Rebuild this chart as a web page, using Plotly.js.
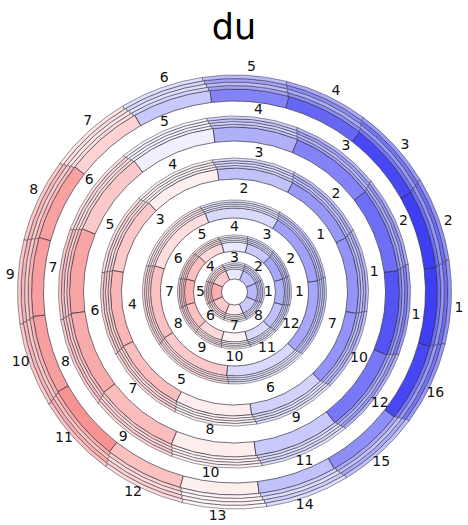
<!DOCTYPE html>
<html>
<head>
<meta charset="utf-8">
<script src="https://cdn.plot.ly/plotly-3.0.1.min.js"></script>
<style>
  html, body { margin: 0; padding: 0; background: #fff; }
  #chart { width: 468px; height: 525px; }
</style>
</head>
<body>
<div id="chart"></div>
<script>
// du per sector, one array per ring (innermost first), sectors numbered counter-clockwise
const ring1Values = [-0.32, -0.28, -0.10, 0.24, 0.36, 0.24, 0.08, -0.24];
const ring2Values = [-0.35, -0.39, -0.24, -0.10, 0.17, 0.28, 0.35, 0.28, 0.17, 0.06, -0.17, -0.28];
const ring3Values = [-0.42, -0.17, 0.15, 0.28, 0.24, -0.17, -0.39];
const ring4Values = [-0.48, -0.46, -0.27, 0.07, 0.24, 0.33, 0.29, 0.08, -0.20, -0.48];
const ring5Values = [-0.76, -0.64, -0.55, -0.35, -0.07, 0.24, 0.40, 0.38, 0.30, 0.08, -0.24, -0.60];
const ring6Values = [-0.86, -0.86, -0.82, -0.68, -0.55, -0.24, 0.20, 0.42, 0.43, 0.43, 0.48, 0.28, 0.07, -0.27, -0.50, -0.82];

const ringValues = [ring1Values, ring2Values, ring3Values, ring4Values, ring5Values, ring6Values];

// ring geometry (radial units = px): inner radius, solid band, outer striped band, label radius
const ringInner   = [13, 41, 74, 113, 151, 191];
const ringSolid   = [10,  9, 10,  11,  14,  12];
const ringStripes = [ 7,  7,  8,  10,  11,  14];
const ringLabelR  = [34, 65, 103, 141, 183, 225];
// angle of the centre of sector 1 in each ring (degrees, counter-clockwise from east)
const ringOffset  = [0, 0, 33.3, 8, -7.5, -4.3];
const stripeCount = 4;

const bwr = [[0, 'rgb(30,30,240)'], [0.5, 'rgb(255,255,255)'], [1, 'rgb(240,30,30)']];

const traces = [];
ringValues.forEach((vals, k) => {
  const n = vals.length;
  const step = 360 / n;
  const theta = vals.map((_, i) => ringOffset[k] + i * step);
  const labels = vals.map((_, i) => String(i + 1));
  // solid inner band
  traces.push({
    type: 'barpolar',
    theta: theta,
    r: vals.map(() => ringSolid[k]),
    base: ringInner[k],
    width: vals.map(() => step),
    marker: {
      color: vals, colorscale: bwr, cmin: -1, cmax: 1,
      line: { color: 'rgba(45,45,60,0.85)', width: 0.8 }
    },
    hoverinfo: 'skip', showlegend: false
  });
  // thin outer stripes, lighter shades of the same sector value
  const sw = ringStripes[k] / stripeCount;
  for (let s = 0; s < stripeCount; s++) {
    const fade = (s % 2 === 0) ? 0.75 : 0.55;
    traces.push({
      type: 'barpolar',
      theta: theta.map(t => t + 0.4 * (s + 1)),
      r: vals.map(() => sw),
      base: ringInner[k] + ringSolid[k] + s * sw,
      width: vals.map(() => step),
      marker: {
        color: vals.map(v => v * fade), colorscale: bwr, cmin: -1, cmax: 1,
        line: { color: 'rgba(45,45,60,0.8)', width: 0.6 }
      },
      hoverinfo: 'skip', showlegend: false
    });
  }
  // sector numbers
  traces.push({
    type: 'scatterpolar',
    mode: 'text',
    theta: theta,
    r: vals.map(() => ringLabelR[k]),
    text: labels,
    textposition: 'middle center',
    textfont: { family: 'DejaVu Sans, sans-serif', size: 14, color: '#111' },
    cliponaxis: false,
    hoverinfo: 'skip', showlegend: false
  });
});

const cx = 234.5, cy = 292, R = 230, W = 468, H = 525;
const layout = {
  width: W, height: H,
  margin: { l: 0, r: 0, t: 0, b: 0 },
  paper_bgcolor: '#fff',
  title: {
    text: 'du',
    font: { family: 'DejaVu Sans, sans-serif', size: 35, color: '#000' },
    x: 0.5, xanchor: 'center',
    y: 1 - 27 / H, yanchor: 'middle', yref: 'container'
  },
  polar: {
    domain: {
      x: [(cx - R) / W, (cx + R) / W],
      y: [(H - cy - R) / H, (H - cy + R) / H]
    },
    bgcolor: 'rgba(0,0,0,0)',
    barmode: 'overlay',
    radialaxis: { range: [0, R], visible: false, showgrid: false },
    angularaxis: { visible: false, showgrid: false, direction: 'counterclockwise', rotation: 0 }
  },
  showlegend: false
};

Plotly.newPlot('chart', traces, layout, { staticPlot: true, displayModeBar: false });
</script>
</body>
</html>
